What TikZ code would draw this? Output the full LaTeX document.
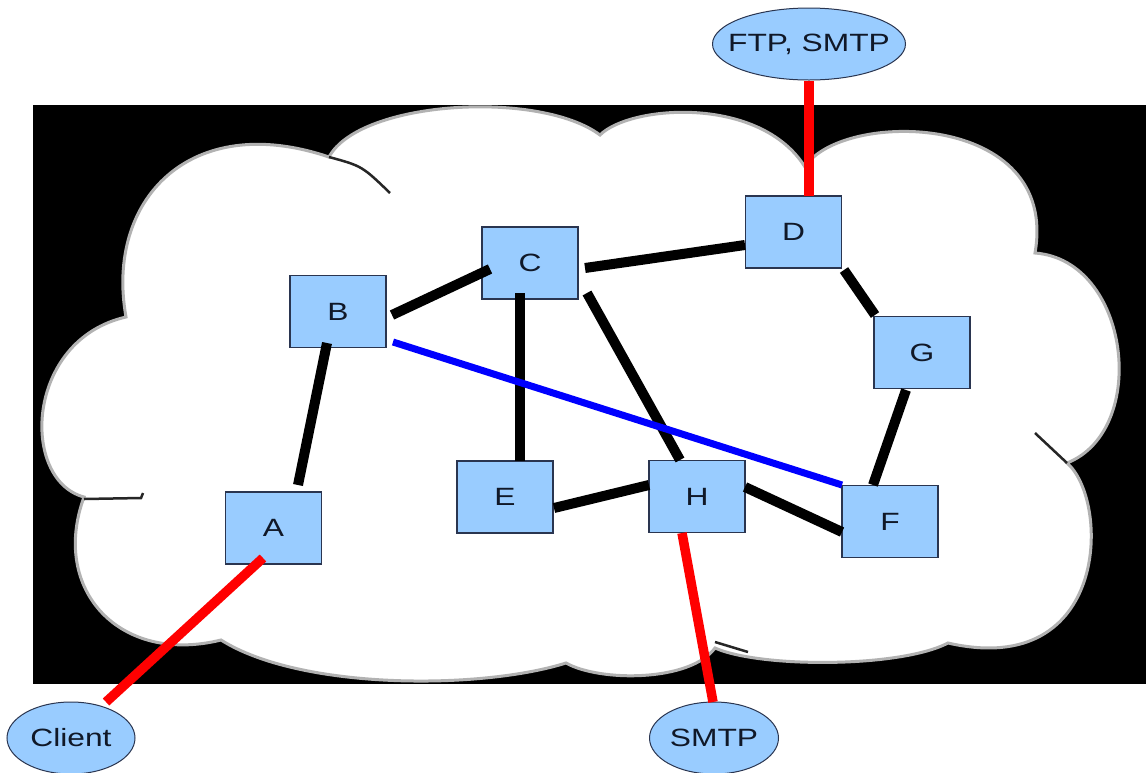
\documentclass[tikz,border=0pt]{standalone}
\usepackage{fontspec}
\setmainfont{Liberation Sans}[FakeStretch=1.27]
\usetikzlibrary{shapes.geometric}
\definecolor{boxblue}{HTML}{99CCFF}
\definecolor{boxline}{HTML}{2A3550}
\definecolor{txt}{HTML}{101828}
\tikzset{
  router/.style={draw=boxline, line width=1.2pt, fill=boxblue, minimum width=96pt,
    minimum height=72pt, inner sep=0pt, font=\fontsize{25}{25}\selectfont, text=txt},
  host/.style={ellipse, draw=boxline, line width=1pt, fill=boxblue, inner sep=0pt},
  hosttext/.style={font=\fontsize{25}{25}\selectfont, text=txt, inner sep=0pt},
  blk/.style={line width=10pt, black},
  redl/.style={line width=9.5pt, red},
  bluel/.style={line width=7pt, blue},
  crease/.style={line width=2.5pt, black!85},
}
\begin{document}
\begin{tikzpicture}[x=1pt,y=-1pt]
\useasboundingbox (0,0) rectangle (1146,772);
\fill[black] (33,105) rectangle (1146,684);
% cloud
\path[fill=white, draw=gray!60, line width=3pt]
  (126,317) .. controls (105,200) and (190,110) .. (329,157)
  .. controls (360,100) and (540,90) .. (600,135)
  .. controls (630,105) and (760,95) .. (805,167)
  .. controls (840,110) and (1060,110) .. (1035,253)
  .. controls (1130,260) and (1150,430) .. (1067,463)
  .. controls (1110,500) and (1110,680) .. (948,643)
  .. controls (900,668) and (760,668) .. (715,648)
  .. controls (690,682) and (600,682) .. (566,663)
  .. controls (480,690) and (300,690) .. (221,640)
  .. controls (120,665) and (50,590) .. (84,497)
  .. controls (20,480) and (25,340) .. cycle;
\draw[crease] (329,157) .. controls (362,166) .. (390,193);
\draw[crease] (1067,463) -- (1035,433);
\draw[crease] (84,499) -- (141,498) -- (143,493);
\draw[crease] (715,642) -- (748,652);
% routers
\node[router] (A) at (273.5,528) {A};
\node[router] (B) at (338,311.5) {B};
\node[router] (C) at (530,263) {C};
\node[router] (D) at (793.5,232) {D};
\node[router] (E) at (505,497) {E};
\node[router] (F) at (890,521.5) {F};
\node[router] (G) at (922,352.5) {G};
\node[router] (H) at (697,496.5) {H};
% hosts
\node[host, minimum width=193pt, minimum height=72pt,
  label={[hosttext]center:{FTP, SMTP}}] (ftp) at (809,44) {};
\node[host, minimum width=128pt, minimum height=72pt,
  label={[hosttext]center:Client}] (client) at (71,738) {};
\node[host, minimum width=129pt, minimum height=72pt,
  label={[hosttext]center:SMTP}] (smtp) at (714,738) {};
% black links
\draw[blk] ([shift={(54,3.5)}]B.center) -- ([shift={(-40,6)}]C.center);
\draw[blk] ([shift={(-11,31.5)}]B.center) -- ([shift={(24.5,-43)}]A.center);
\draw[blk] ([shift={(55,5)}]C.center) -- ([shift={(-48.5,13)}]D.center);
\draw[blk] ([shift={(-10,30)}]C.center) -- ([shift={(15,-36)}]E.center);
\draw[blk] ([shift={(57,30)}]C.center) -- ([shift={(-17,-36.5)}]H.center);
\draw[blk] ([shift={(50.5,38)}]D.center) -- ([shift={(-47,-37.5)}]G.center);
\draw[blk] ([shift={(-16,37.5)}]G.center) -- ([shift={(-17,-36.5)}]F.center);
\draw[blk] ([shift={(49,11)}]E.center) -- ([shift={(-48,-11.5)}]H.center);
\draw[blk] ([shift={(48,-9.5)}]H.center) -- ([shift={(-48,10.5)}]F.center);
% blue link
\draw[bluel] ([shift={(55,30.5)}]B.center) -- ([shift={(-48,-36.5)}]F.center);
% red links
\draw[redl] ([shift={(15.5,-36)}]D.center) -- (ftp.south);
\draw[redl] ([shift={(-10.5,30)}]A.center) -- ([shift={(35,-36)}]client.center);
\draw[redl] ([shift={(-15,36.5)}]H.center) -- ([shift={(-1,-36)}]smtp.center);
\end{tikzpicture}
\end{document}
